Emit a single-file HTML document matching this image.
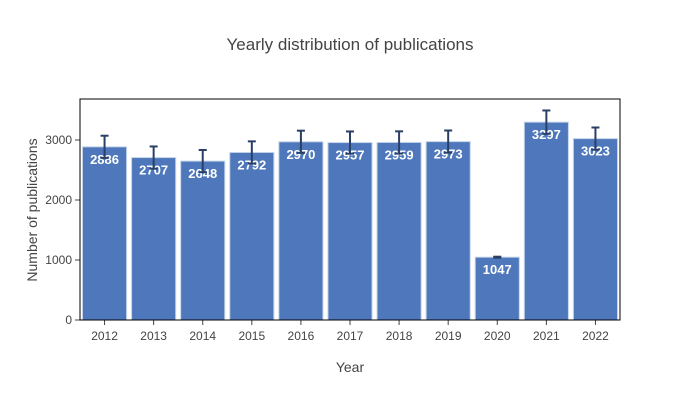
<!DOCTYPE html>
<html><head><meta charset="utf-8"><style>
body{margin:0;background:#fff;font-family:"Liberation Sans",sans-serif;}
svg text{font-family:"Liberation Sans",sans-serif;}
</style></head><body>
<svg id="chart" width="700" height="400">
<rect width="700" height="400" fill="#fff"/>
<text x="350" y="50" text-anchor="middle" font-size="17" fill="#444">Yearly distribution of publications</text>
<g id="bars"></g><g id="labels"></g><g id="errs"></g><g id="axes"></g>
<text x="350" y="372" text-anchor="middle" font-size="14" fill="#444">Year</text>
<text transform="translate(37,210) rotate(-90)" text-anchor="middle" font-size="14" fill="#444">Number of publications</text>
</svg>
<script>
const categories=["2012","2013","2014","2015","2016","2017","2018","2019","2020","2021","2022"];
const values=[2886,2707,2648,2792,2970,2957,2959,2973,1047,3297,3023];
const errors=[185,185,185,185,185,185,185,185,8,195,185];
const yTicks=[0,1000,2000,3000];
const L=80,R=620,T=99,B=320,yMax=3683;
const NS="http://www.w3.org/2000/svg";
const band=(R-L)/categories.length;
function x(i){return L+band*i;}
function y(v){return B-(v/yMax)*(B-T);}
function mk(tag,attrs,parent){const e=document.createElementNS(NS,tag);for(const k in attrs)e.setAttribute(k,attrs[k]);parent.appendChild(e);return e;}
const bars=document.getElementById('bars'),axes=document.getElementById('axes'),labels=document.getElementById('labels'),errs=document.getElementById('errs');
categories.forEach((c,i)=>{
 const r=mk('rect',{x:x(i)+2.5,y:y(values[i]),width:band-5,height:B-y(values[i]),fill:'#4e78bb',stroke:'#c5d3ea','stroke-width':1},bars);
 
 
 const cx=x(i)+band/2,t=y(values[i]+errors[i]),b=y(values[i]-errors[i]);
 const lbl=mk('text',{x:cx,y:y(values[i])+17,'text-anchor':'middle','font-size':13,fill:'#fff','font-weight':'bold'},labels);
 lbl.textContent=values[i];
 
 
 const g=mk('g',{stroke:'#2a3f66','stroke-width':2},errs);
 
 
 mk('line',{x1:cx,x2:cx,y1:t,y2:b},g);
 mk('line',{x1:cx-4,x2:cx+4,y1:t,y2:t},g);
 mk('line',{x1:cx-4,x2:cx+4,y1:b,y2:b},g);
 const tl=mk('text',{x:cx,y:B+20,'text-anchor':'middle','font-size':12,fill:'#444'},axes);
 tl.textContent=c;
 
 
 mk('line',{x1:cx,x2:cx,y1:B,y2:B+5,stroke:'#444'},axes);
});
yTicks.forEach(v=>{
 const t=mk('text',{x:L-8,y:y(v)+4,'text-anchor':'end','font-size':12,fill:'#444'},axes);
 t.textContent=v;
 
 
 mk('line',{x1:L-5,x2:L,y1:y(v),y2:y(v),stroke:'#444'},axes);
});
const f=mk('rect',{x:L,y:T,width:R-L,height:B-T,fill:'none',stroke:'#000','stroke-width':1},axes);


</script>
</body></html>
